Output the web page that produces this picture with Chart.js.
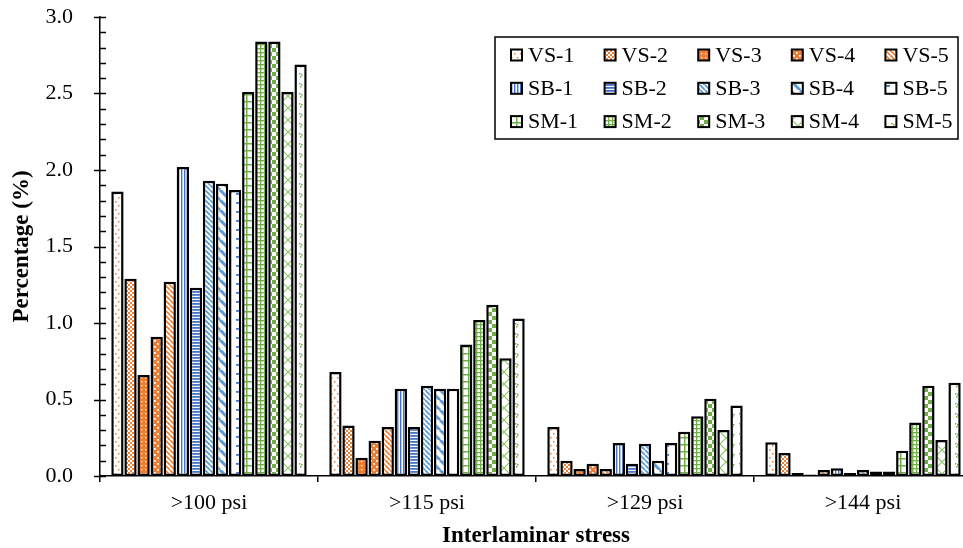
<!DOCTYPE html>
<html>
<head>
<meta charset="utf-8">
<script src="https://cdn.jsdelivr.net/npm/chart.js@4/dist/chart.umd.min.js"></script>
<style>
	html, body { margin: 0; padding: 0; background: #fff; overflow: hidden; }
	#wrap { width: 963px; height: 548px; overflow: hidden; }
</style>
</head>
<body>
<div id="wrap"><canvas id="c" width="980" height="548"></canvas></div>
<script>
const categories = [">100 psi", ">115 psi", ">129 psi", ">144 psi"];

const VS1 = [1.86, 0.68, 0.32, 0.22];
const VS2 = [1.29, 0.33, 0.10, 0.15];
const VS3 = [0.66, 0.12, 0.045, 0.02];
const VS4 = [0.91, 0.23, 0.08, 0.01];
const VS5 = [1.27, 0.32, 0.045, 0.04];
const SB1 = [2.02, 0.57, 0.215, 0.05];
const SB2 = [1.23, 0.32, 0.08, 0.02];
const SB3 = [1.93, 0.59, 0.21, 0.04];
const SB4 = [1.91, 0.57, 0.10, 0.03];
const SB5 = [1.87, 0.57, 0.215, 0.03];
const SM1 = [2.51, 0.86, 0.29, 0.165];
const SM2 = [2.84, 1.02, 0.39, 0.35];
const SM3 = [2.84, 1.12, 0.505, 0.59];
const SM4 = [2.51, 0.77, 0.30, 0.235];
const SM5 = [2.69, 1.03, 0.46, 0.61];

const seriesLabels = ["VS-1", "VS-2", "VS-3", "VS-4", "VS-5",
	"SB-1", "SB-2", "SB-3", "SB-4", "SB-5",
	"SM-1", "SM-2", "SM-3", "SM-4", "SM-5"];
const seriesData = [VS1, VS2, VS3, VS4, VS5, SB1, SB2, SB3, SB4, SB5, SM1, SM2, SM3, SM4, SM5];

const ORANGE = "#ED7D31";
const BLUE = "#4472C4";
const LBLUE = "#5B9BD5";
const GREEN = "#70AD47";
const SERIF = "'Liberation Serif', 'Times New Roman', serif";

// small tiles used as bar fills
function tile(w, h, draw) {
	const cv = document.createElement("canvas");
	cv.width = w;
	cv.height = h;
	const g = cv.getContext("2d");
	g.fillStyle = "#fff";
	g.fillRect(0, 0, w, h);
	draw(g);
	return document.getElementById("c").getContext("2d").createPattern(cv, "repeat");
}

function diag(g, w, col, lw) {
	g.strokeStyle = col;
	g.lineWidth = lw;
	g.beginPath();
	for (let k = -w; k <= w; k += w) {
		g.moveTo(k, 0);
		g.lineTo(k + w, w);
	}
	g.stroke();
}

const patterns = [
	tile(6, 8, g => { g.fillStyle = ORANGE; g.fillRect(1, 1, 1.5, 1.5); g.fillRect(4, 5, 1.5, 1.5); }),
	tile(4, 4, g => { g.fillStyle = ORANGE; g.fillRect(0, 0, 2, 2); g.fillRect(2, 2, 2, 2); }),
	tile(4, 4, g => { g.fillStyle = ORANGE; g.fillRect(0, 0, 4, 4); g.fillStyle = "#fff"; g.fillRect(1, 1, 1.3, 1.3); }),
	tile(6, 6, g => { g.fillStyle = ORANGE; g.fillRect(0, 0, 6, 6); g.fillStyle = "#fff"; g.fillRect(1, 1, 1.8, 1.8); g.fillRect(4, 4, 1.8, 1.8); }),
	tile(5, 5, g => diag(g, 5, ORANGE, 1.6)),
	tile(3, 4, g => { g.fillStyle = BLUE; g.fillRect(1, 0, 1.4, 4); }),
	tile(4, 3, g => { g.fillStyle = BLUE; g.fillRect(0, 0, 4, 1.8); }),
	tile(5, 5, g => diag(g, 5, LBLUE, 1.8)),
	tile(10, 10, g => diag(g, 10, LBLUE, 3)),
	tile(13, 9, g => { g.fillStyle = BLUE; g.fillRect(2, 4, 4, 1.8); }),
	tile(6, 7, g => { g.fillStyle = GREEN; g.fillRect(0, 0, 1.5, 7); g.fillRect(0, 3, 6, 1.5); }),
	tile(4, 4, g => { g.fillStyle = GREEN; g.fillRect(0, 0, 1.3, 4); g.fillRect(0, 0, 4, 1.3); }),
	tile(8, 8, g => { g.fillStyle = GREEN; g.fillRect(0, 0, 4, 4); g.fillRect(4, 4, 4, 4); }),
	tile(12, 12, g => {
		g.strokeStyle = "#8CC66A";
		g.lineWidth = 1.2;
		g.beginPath();
		g.moveTo(0, 0); g.lineTo(12, 12);
		g.moveTo(12, 0); g.lineTo(0, 12);
		g.stroke();
	}),
	tile(8, 10, g => { g.fillStyle = GREEN; g.fillRect(3, 3, 1.5, 1.5); g.fillRect(5, 4, 1.5, 1.5); g.fillRect(4, 6, 1.5, 1.5); })
];

function isMajor(v) {
	return Math.abs(v * 2 - Math.round(v * 2)) < 1e-6;
}

// legend box in the upper right, drawn by hand
const boxLegend = {
	id: "boxLegend",
	afterDraw(chart) {
		const ctx = chart.ctx;
		ctx.save();
		ctx.strokeStyle = "#000";
		ctx.lineWidth = 1.5;
		ctx.strokeRect(495, 37, 463, 102);
		ctx.font = "22px " + SERIF;
		ctx.textBaseline = "middle";
		ctx.textAlign = "left";
		chart.data.datasets.forEach((ds, i) => {
			const col = i % 5;
			const row = Math.floor(i / 5);
			const x = 511 + col * 93.6;
			const y = 55 + row * 33.3;
			ctx.fillStyle = ds.backgroundColor;
			ctx.fillRect(x, y - 5.5, 11, 11);
			ctx.lineWidth = 2;
			ctx.strokeRect(x, y - 5.5, 11, 11);
			ctx.fillStyle = "#000";
			ctx.fillText(ds.label, x + 17, y + 1);
		});
		ctx.restore();
	}
};

// y tick marks: minor ones point inward, major ones cross the axis
const yTicks = {
	id: "yTicks",
	afterDraw(chart) {
		const ctx = chart.ctx;
		const y = chart.scales.y;
		const x0 = chart.chartArea.left;
		ctx.save();
		ctx.strokeStyle = "#000";
		ctx.lineWidth = 1.5;
		ctx.beginPath();
		y.ticks.forEach(t => {
			const py = Math.round(y.getPixelForValue(t.value)) + 0.5;
			ctx.moveTo(isMajor(t.value) ? x0 - 6 : x0, py);
			ctx.lineTo(x0 + 6, py);
		});
		ctx.stroke();
		ctx.restore();
	}
};

new Chart(document.getElementById("c"), {
	type: "bar",
	data: {
		labels: categories,
		datasets: seriesLabels.map((name, i) => ({
			label: name,
			data: seriesData[i],
			backgroundColor: patterns[i],
			borderColor: "#000",
			borderWidth: 2.5,
			borderSkipped: false,
			categoryPercentage: 0.9,
			barPercentage: 0.94
		}))
	},
	options: {
		responsive: false,
		animation: false,
		layout: { padding: { left: 0, right: 8, top: 17, bottom: 0 } },
		plugins: {
			legend: { display: false },
			tooltip: { enabled: false }
		},
		scales: {
			x: {
				grid: { display: true, offset: true, drawOnChartArea: false, tickLength: 6, color: "#000", lineWidth: 1.5 },
				border: { display: true, color: "#000", width: 1.5 },
				ticks: { color: "#000", font: { family: SERIF, size: 22 }, padding: 8 },
				title: {
					display: true,
					text: "Interlaminar stress",
					color: "#000",
					font: { family: SERIF, size: 23, weight: "bold", lineHeight: 1 },
					padding: { top: 0, bottom: 0 }
				},
				afterFit(scale) { scale.height = 72; }
			},
			y: {
				min: 0,
				max: 3,
				grid: { display: false, drawTicks: false },
				border: { display: true, color: "#000", width: 1.5 },
				ticks: {
					stepSize: 0.1,
					autoSkip: false,
					padding: 27,
					color: "#000",
					font: { family: SERIF, size: 22 },
					callback: v => isMajor(v) ? v.toFixed(1) : ""
				},
				title: {
					display: true,
					text: "Percentage (%)",
					color: "#000",
					font: { family: SERIF, size: 23, weight: "bold", lineHeight: 1 },
					padding: { top: 11, bottom: 0 }
				},
				afterFit(scale) {
					scale.width = 100;
					scale.paddingTop = 0;
					scale.paddingBottom = 0;
				}
			}
		}
	},
	plugins: [boxLegend, yTicks]
});
</script>
</body>
</html>
